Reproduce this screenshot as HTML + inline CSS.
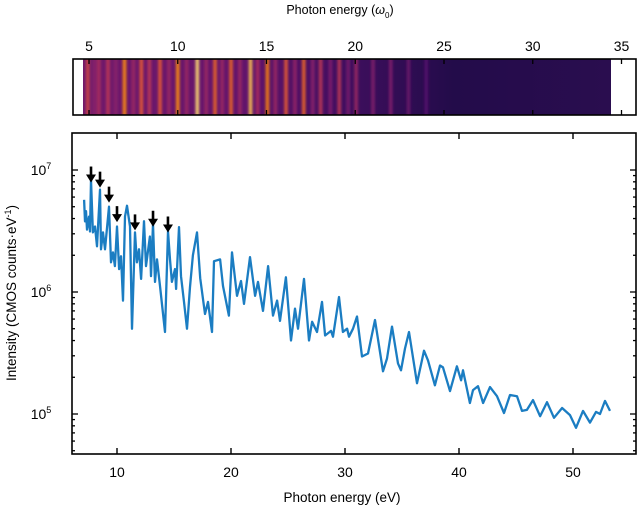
<!DOCTYPE html>
<html><head><meta charset="utf-8"><style>
html,body{margin:0;padding:0;background:#fff;}
svg{display:block;font-family:"Liberation Sans",Arial,sans-serif;}
</style></head><body>
<svg id="fig" width="639" height="510" viewBox="0 0 639 510" xmlns="http://www.w3.org/2000/svg">
<g id="strip"></g>
<g id="main"></g>
</svg>
<script>
// ---- spectrum data ----
const energies = [7.11,7.19,7.28,7.37,7.54,7.63,7.72,7.89,8.07,8.25,8.51,8.60,8.77,8.95,9.30,9.47,9.65,9.82,10.0,10.18,10.35,10.53,10.70,10.88,11.14,11.32,11.58,11.75,11.93,12.11,12.37,12.54,12.89,12.98,13.16,13.33,13.51,13.77,14.21,14.47,14.65,14.82,15.09,15.18,15.44,15.61,15.88,16.14,16.40,16.66,17.02,17.30,17.72,17.98,18.33,18.51,19.04,19.30,19.82,20.09,20.53,20.88,21.14,21.67,22.11,22.37,22.81,23.25,23.68,24.04,24.30,24.82,25.26,25.61,25.88,26.40,26.84,27.11,27.54,27.98,28.25,28.77,28.95,29.47,29.82,30.18,30.35,30.70,31.05,31.49,32.02,32.63,33.33,33.68,34.12,34.65,34.91,35.26,35.61,36.32,36.93,37.28,37.89,38.33,38.60,39.21,39.82,40.18,40.35,40.96,41.23,41.67,42.11,42.72,43.33,43.95,44.47,45.09,45.53,45.96,46.49,47.11,47.72,48.33,49.04,49.74,50.26,50.88,51.49,52.02,52.37,52.81,53.25];
const intensities = [5.7e6,3.8e6,4.6e6,3.25e6,4.15e6,3.13e6,8.3e6,3.08e6,3.44e6,2.37e6,6.9e6,2.24e6,3.08e6,2.24e6,5.0e6,1.75e6,2.11e6,1.63e6,3.44e6,1.54e6,1.96e6,8.5e5,4.15e6,5.1e6,3.44e6,5.0e5,3.08e6,1.75e6,2.24e6,1.28e6,3.8e6,1.63e6,2.85e6,1.35e6,3.6e6,1.21e6,1.85e6,1.12e6,4.7e5,3.13e6,1.85e6,1.21e6,1.54e6,1.06e6,3.4e6,1.35e6,8.3e5,5.0e5,1.1e6,2.0e6,3.08e6,1.3e6,6.6e5,8.3e5,4.7e5,1.79e6,1.85e6,1.12e6,6.4e5,2.11e6,9.3e5,1.23e6,8.0e5,1.93e6,9.3e5,1.21e6,7.0e5,1.63e6,6.4e5,8.5e5,5.8e5,1.32e6,4.0e5,7.3e5,5.0e5,1.28e6,4.0e5,5.7e5,4.7e5,8.3e5,4.4e5,4.8e5,4.3e5,9.1e5,4.7e5,5.0e5,4.3e5,5.0e5,6.3e5,2.96e5,3.13e5,5.9e5,2.24e5,2.85e5,5.2e5,2.6e5,2.28e5,3.44e5,4.7e5,1.79e5,3.3e5,2.75e5,1.72e5,2.5e5,2.41e5,1.54e5,2.46e5,1.89e5,2.28e5,1.23e5,1.57e5,1.69e5,1.23e5,1.66e5,1.40e5,1.02e5,1.43e5,1.40e5,1.06e5,1.08e5,1.30e5,9.6e4,1.25e5,9.3e4,1.12e5,9.8e4,7.7e4,1.06e5,8.5e4,1.04e5,1.0e5,1.28e5,1.06e5];
const arrowEnergies = [7.72,8.51,9.30,10.0,11.58,13.16,14.47];
const arrowTips = [7.6e6,6.9e6,5.2e6,3.6e6,3.08e6,3.3e6,2.96e6];
const xTicks = [10,20,30,40,50];
const yDecades = [5,6,7];
// ---- image strip data ----
const harmonicOrders = [4.93,5.3,5.55,6.07,6.5,7.0,7.5,7.95,8.4,9.0,9.5,10.0,10.5,11.1,11.6,12.1,12.5,13.0,13.5,14.1,14.5,15.05,15.5,16.1,16.6,17.1,17.6,18.05,18.6,19.1,19.6,20.05,21.0,22.0,23.0,24.0];
const harmonicLevels = [0.65,0.45,0.55,0.6,0.45,0.85,0.5,0.72,0.6,0.72,0.5,0.85,0.5,0.95,0.5,0.75,0.5,0.75,0.5,0.92,0.55,0.82,0.5,0.72,0.48,0.75,0.45,0.6,0.42,0.6,0.4,0.5,0.42,0.42,0.36,0.3];
const topTicks = [5,10,15,20,25,30,35];

const NS="http://www.w3.org/2000/svg";
function mk(tag,attrs,parent){const e=document.createElementNS(NS,tag);for(const k in attrs)e.setAttribute(k,attrs[k]);parent.appendChild(e);return e;}

const L=72,R=636,T=133,B=454;
const xS=e=>117+(e-10)*11.4;
const yS=v=>170+(7-Math.log10(v))*122;
const main=document.getElementById('main');
let d='';
energies.forEach((e,i)=>{d+=(i?'L':'M')+xS(e).toFixed(1)+' '+yS(intensities[i]).toFixed(1);});
const line=mk('path',{d:d,fill:'none',stroke:'#1b7dc2','stroke-width':2.3,'stroke-linejoin':'round'},main);


arrowEnergies.forEach((e,i)=>{
  const x=xS(e),ty=yS(arrowTips[i])-2;
  const g=mk('g',{},main);
  
  
  mk('line',{x1:x,y1:ty-16,x2:x,y2:ty-5,stroke:'#000','stroke-width':2.6},g);
  mk('path',{d:`M${x-5} ${ty-8}L${x+5} ${ty-8}L${x} ${ty}Z`,fill:'#000'},g);
});
const fr=mk('rect',{x:L,y:T,width:R-L,height:B-T,fill:'none',stroke:'#000','stroke-width':1.6},main);


xTicks.forEach(t=>{
  const x=xS(t);
  mk('line',{x1:x,y1:B,x2:x,y2:B-6,stroke:'#000','stroke-width':1.4},main);
  mk('line',{x1:x,y1:T,x2:x,y2:T+6,stroke:'#000','stroke-width':1.4},main);
  const tx=mk('text',{x:x,y:B+23,'text-anchor':'middle','font-size':14},main);
  tx.textContent=t;
  
  
});
for(let p=4;p<=7;p++){
  for(let m=1;m<10;m++){
    const v=m*Math.pow(10,p),y=yS(v);
    if(y<T+1||y>B-1)continue;
    const len=m===1?6:3;
    mk('line',{x1:L,y1:y,x2:L+len,y2:y,stroke:'#000','stroke-width':1.3},main);
    mk('line',{x1:R,y1:y,x2:R-len,y2:y,stroke:'#000','stroke-width':1.3},main);
  }
}
yDecades.forEach(p=>{
  const y=yS(Math.pow(10,p));
  const tx=mk('text',{x:41,y:y+5,'text-anchor':'middle','font-size':14},main);
  
  
  tx.innerHTML='10<tspan dy="-6" font-size="9">'+p+'</tspan>';
});
const xt=mk('text',{x:342,y:502,'text-anchor':'middle','font-size':13.5},main);
xt.textContent='Photon energy (eV)';


const yt=mk('text',{x:0,y:0,'text-anchor':'middle','font-size':13.5,transform:'translate(16,293) rotate(-90)'},main);
yt.innerHTML='Intensity (CMOS counts·eV<tspan dy="-5" font-size="9">-1</tspan><tspan dy="5">)</tspan>';



// strip
const strip=document.getElementById('strip');
const sL=73,sR=636,sT=59,sB=115,iL=83,iR=611;
const wS=w=>89+(w-5)*17.75;
function inferno(t){
  const stops=[[0,[0,0,4]],[0.15,[31,12,72]],[0.3,[85,15,109]],[0.45,[136,34,106]],[0.6,[186,54,85]],[0.72,[227,89,51]],[0.85,[249,140,10]],[1,[252,255,164]]];
  t=Math.max(0,Math.min(1,t));
  for(let i=1;i<stops.length;i++){if(t<=stops[i][0]){const a=stops[i-1],b=stops[i],f=(t-a[0])/(b[0]-a[0]);return 'rgb('+a[1].map((c,j)=>Math.round(c+(b[1][j]-c)*f)).join(',')+')';}}
  return 'rgb(252,255,164)';
}
const defs=mk('defs',{},strip);
const gr=mk('linearGradient',{id:'bg',x1:0,x2:1,y1:0,y2:0},defs);
[[0,0.38],[0.3,0.34],[0.5,0.24],[0.7,0.16],[1,0.18]].forEach(s=>mk('stop',{offset:s[0],'stop-color':inferno(s[1])},gr));
const flt=mk('filter',{id:'soft',x:'-20%',y:'-5%',width:'140%',height:'110%'},defs);
mk('feGaussianBlur',{stdDeviation:'1.3 0.5'},flt);
const clip=mk('clipPath',{id:'imgclip'},defs);
mk('rect',{x:iL,y:sT,width:iR-iL,height:sB-sT},clip);
const bgr=mk('rect',{x:iL,y:sT,width:iR-iL,height:sB-sT,fill:'url(#bg)'},strip);


const sg=mk('g',{filter:'url(#soft)','clip-path':'url(#imgclip)'},strip);
harmonicOrders.forEach((w,i)=>{
  const x=wS(w);
  const r=mk('rect',{x:x-1.8,y:sT,width:3.6,height:sB-sT,fill:inferno(harmonicLevels[i]),opacity:0.9},sg);
  
  
});
const sf=mk('rect',{x:sL,y:sT,width:sR-sL,height:sB-sT,fill:'none',stroke:'#000','stroke-width':1.6},strip);


topTicks.forEach(t=>{
  const x=wS(t);
  mk('line',{x1:x,y1:sT,x2:x,y2:sT+5,stroke:'#000','stroke-width':1.3},strip);
  mk('line',{x1:x,y1:sB,x2:x,y2:sB-5,stroke:'#000','stroke-width':1.3},strip);
  const tx=mk('text',{x:x,y:51,'text-anchor':'middle','font-size':14},strip);
  tx.textContent=t;
  
  
});
const tt=mk('text',{x:340,y:14,'text-anchor':'middle','font-size':12.5},strip);
tt.innerHTML='Photon energy (<tspan font-style="italic">ω</tspan><tspan dy="4" font-size="8">0</tspan><tspan dy="-4">)</tspan>';


</script>
</body></html>
